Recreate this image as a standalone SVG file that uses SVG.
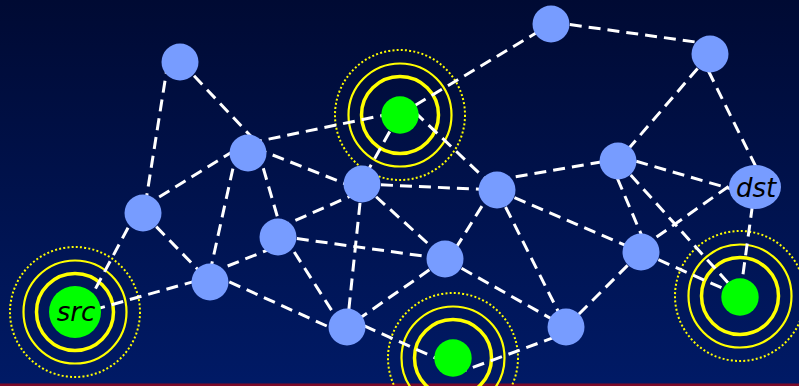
<svg xmlns="http://www.w3.org/2000/svg" width="799" height="386" viewBox="0 0 799 386">
<defs>
<linearGradient id="bg" x1="0" y1="0" x2="0" y2="1">
<stop offset="0" stop-color="#000a33"/>
<stop offset="1" stop-color="#001a66"/>
</linearGradient>
</defs>
<style>
.e{stroke:#ffffff;stroke-width:3;stroke-dasharray:12 7;fill:none}
.n{fill:#779cff}
.g{fill:#00ff00}
.r1{fill:none;stroke:#ffff00;stroke-width:3.5}
.r2{fill:none;stroke:#ffff00;stroke-width:2.2}
.r3{fill:none;stroke:#ffff00;stroke-width:2;stroke-dasharray:2 2.2}
.t{font-family:"DejaVu Sans",sans-serif;font-style:italic;font-size:26px;fill:#000;text-anchor:middle}
</style>
<rect x="0" y="0" width="799" height="386" fill="url(#bg)"/>
<rect x="0" y="383.5" width="799" height="2.5" fill="#7a0a28"/>
<g id="rings">
<g id="ring-src"><circle class="r1" cx="75" cy="312" r="38.5"/><circle class="r2" cx="75" cy="312" r="51.5"/><circle class="r3" cx="75" cy="312" r="65"/></g>
<g id="ring-g1"><circle class="r1" cx="400" cy="115" r="38.5"/><circle class="r2" cx="400" cy="115" r="51.5"/><circle class="r3" cx="400" cy="115" r="65"/></g>
<g id="ring-g2"><circle class="r1" cx="453" cy="358" r="38.5"/><circle class="r2" cx="453" cy="358" r="51.5"/><circle class="r3" cx="453" cy="358" r="65"/></g>
<g id="ring-g3"><circle class="r1" cx="740" cy="296" r="38.5"/><circle class="r2" cx="740" cy="296" r="51.5"/><circle class="r3" cx="740" cy="296" r="65"/></g>
</g>
<g id="connectors">
<line class="e" x1="168" y1="62" x2="144" y2="213"/>
<line class="e" x1="181" y1="62" x2="262" y2="148"/>
<line class="e" x1="143" y1="207" x2="240" y2="147"/>
<line class="e" x1="250" y1="143" x2="399" y2="112"/>
<line class="e" x1="255" y1="148" x2="361" y2="190"/>
<line class="e" x1="237" y1="150" x2="208" y2="281"/>
<line class="e" x1="258" y1="150" x2="283" y2="236"/>
<line class="e" x1="143" y1="213" x2="210" y2="282"/>
<line class="e" x1="137" y1="211" x2="83" y2="312"/>
<line class="e" x1="75" y1="315" x2="210" y2="277"/>
<line class="e" x1="210" y1="273" x2="278" y2="246"/>
<line class="e" x1="212" y1="274" x2="340" y2="332"/>
<line class="e" x1="278" y1="228" x2="362" y2="191"/>
<line class="e" x1="278" y1="236" x2="445" y2="259"/>
<line class="e" x1="284" y1="236" x2="343" y2="328"/>
<line class="e" x1="362" y1="184" x2="347" y2="327"/>
<line class="e" x1="362" y1="184" x2="497" y2="190"/>
<line class="e" x1="362" y1="184" x2="445" y2="259"/>
<line class="e" x1="399" y1="115" x2="361" y2="183"/>
<line class="e" x1="399" y1="115" x2="551" y2="24"/>
<line class="e" x1="401" y1="99" x2="497" y2="190"/>
<line class="e" x1="551" y1="22" x2="710" y2="44"/>
<line class="e" x1="710" y1="54" x2="618" y2="161"/>
<line class="e" x1="700" y1="54" x2="760" y2="175"/>
<line class="e" x1="497" y1="180" x2="618" y2="159"/>
<line class="e" x1="618" y1="156" x2="745" y2="193"/>
<line class="e" x1="492" y1="190" x2="449" y2="259"/>
<line class="e" x1="497" y1="190" x2="566" y2="327"/>
<line class="e" x1="497" y1="190" x2="641" y2="252"/>
<line class="e" x1="610" y1="161" x2="647" y2="248"/>
<line class="e" x1="618" y1="161" x2="740" y2="296"/>
<line class="e" x1="641" y1="248" x2="742" y2="177"/>
<line class="e" x1="641" y1="252" x2="566" y2="327"/>
<line class="e" x1="641" y1="252" x2="740" y2="296"/>
<line class="e" x1="755" y1="187" x2="740" y2="296"/>
<line class="e" x1="445" y1="259" x2="566" y2="327"/>
<line class="e" x1="445" y1="259" x2="347" y2="327"/>
<line class="e" x1="347" y1="318" x2="440" y2="360"/>
<line class="e" x1="455" y1="374" x2="566" y2="333"/>
</g>
<g id="n-a"><circle class="n" cx="180" cy="62" r="18.5"/></g>
<g id="n-b"><circle class="n" cx="248" cy="153" r="18.5"/></g>
<g id="n-c"><circle class="n" cx="143" cy="213" r="18.5"/></g>
<g id="n-d"><circle class="n" cx="278" cy="237" r="18.5"/></g>
<g id="n-e"><circle class="n" cx="210" cy="282" r="18.5"/></g>
<g id="n-f"><circle class="n" cx="362" cy="184" r="18.5"/></g>
<g id="n-g"><circle class="n" cx="347" cy="327" r="18.5"/></g>
<g id="n-h"><circle class="n" cx="445" cy="259" r="18.5"/></g>
<g id="n-i"><circle class="n" cx="497" cy="190" r="18.5"/></g>
<g id="n-j"><circle class="n" cx="566" cy="327" r="18.5"/></g>
<g id="n-k"><circle class="n" cx="551" cy="24" r="18.5"/></g>
<g id="n-l"><circle class="n" cx="710" cy="54" r="18.5"/></g>
<g id="n-m"><circle class="n" cx="618" cy="161" r="18.5"/></g>
<g id="n-n"><circle class="n" cx="641" cy="252" r="18.5"/></g>
<g id="n-dst"><ellipse class="n" cx="755" cy="187" rx="26" ry="22"/><text class="t" x="756" y="197">dst</text></g>
<g id="n-src"><circle class="g" cx="75" cy="312" r="26"/><text class="t" x="76" y="321">src</text></g>
<g id="n-g1"><circle class="g" cx="400" cy="115" r="18.7"/></g>
<g id="n-g2"><circle class="g" cx="453" cy="358" r="18.7"/></g>
<g id="n-g3"><circle class="g" cx="740" cy="297" r="18.7"/></g>
</svg>
